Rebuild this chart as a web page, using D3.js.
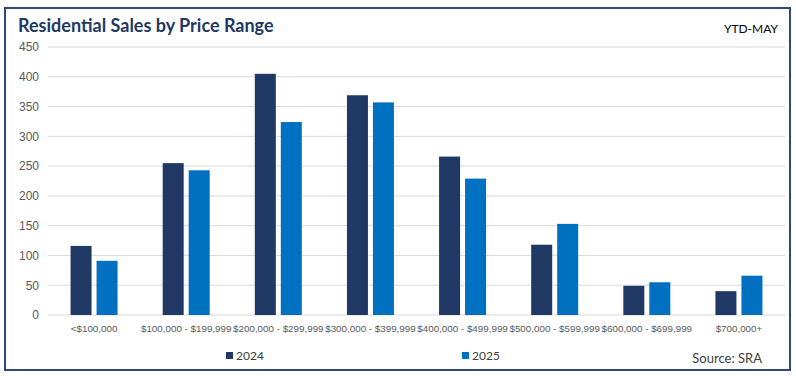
<!DOCTYPE html>
<html lang="en">
<head>
  <meta charset="UTF-8" />
  <title>Residential Sales by Price Range</title>
  <script src="https://d3js.org/d3.v7.min.js"></script>
  <style>
    body, html { margin: 0; padding: 0; background: #fff; }
    svg { display: block; font-family: Lato, "Open Sans", sans-serif; }
  </style>
</head>
<body>
  <svg id="chart" width="796" height="376"></svg>
  <script>
    // Chart data
    const categories = ["<$100,000", "$100,000 - $199,999", "$200,000 - $299,999", "$300,000 - $399,999",
                        "$400,000 - $499,999", "$500,000 - $599,999", "$600,000 - $699,999", "$700,000+"];
    const seriesNames = ["2024", "2025"];
    const sales2024 = [116, 255, 405, 369, 266, 118, 49, 40];
    const sales2025 = [91, 243, 324, 357, 229, 153, 55, 66];
    const yTicks = [0, 50, 100, 150, 200, 250, 300, 350, 400, 450];

    const colors = ["#203864", "#0070c0"];
    const svg = d3.select("#chart");
    const margin = { left: 48, right: 11, top: 47, bottom: 61 };
    const W = 796, H = 376;

    // Outer frame
    svg.append("rect")
      .attr("x", 5).attr("y", 8).attr("width", 785).attr("height", 362)
      .attr("fill", "#fff").attr("stroke", "#2f4a7a").attr("stroke-width", 2);

    const x = d3.scaleBand().domain(categories).range([margin.left, W - margin.right]);
    const y = d3.scaleLinear().domain([0, 450]).range([H - margin.bottom, margin.top]);

    // Gridlines
    svg.append("g").selectAll("line").data(yTicks).join("line")
      .attr("x1", margin.left).attr("x2", W - margin.right)
      .attr("y1", d => y(d)).attr("y2", d => y(d))
      .attr("stroke", "#d9d9d9").attr("stroke-width", 1);

    // Y axis labels
    const yAxis = svg.append("g").attr("transform", `translate(${margin.left - 9},0)`)
      .call(d3.axisLeft(y).tickValues(yTicks).tickSize(0).tickPadding(0));
    yAxis.select(".domain").remove();
    yAxis.selectAll("text").attr("fill", "#595959").attr("font-size", 12);

    // Bars
    const barW = 21, gap = 5;
    const data = categories.map((c, i) => ({ c, vals: [sales2024[i], sales2025[i]] }));
    const groups = svg.append("g").selectAll("g").data(data).join("g")
      .attr("transform", d => `translate(${x(d.c) + x.bandwidth() / 2},0)`);
    groups.selectAll("rect").data(d => d.vals).join("rect")
      .attr("x", (d, i) => i === 0 ? -(barW + gap / 2) : gap / 2)
      .attr("width", barW)
      .attr("y", d => y(d))
      .attr("height", d => y(0) - y(d))
      .attr("fill", (d, i) => colors[i]);

    // X axis labels
    const xAxis = svg.append("g").attr("transform", `translate(0,${y(0)})`)
      .call(d3.axisBottom(x).tickSize(0).tickPadding(10));
    xAxis.select(".domain").remove();
    xAxis.selectAll("text").attr("fill", "#595959").attr("font-size", 9.8);

    // Title and labels
    svg.append("text").attr("x", 18).attr("y", 32)
      .attr("font-size", 18).attr("font-weight", "bold").attr("fill", "#1f3864")
      .text("Residential Sales by Price Range");
    svg.append("text").attr("x", 778).attr("y", 33).attr("text-anchor", "end")
      .attr("font-size", 12).attr("fill", "#000").text("YTD-MAY");
    svg.append("text").attr("x", 762).attr("y", 363).attr("text-anchor", "end")
      .attr("font-size", 13).attr("fill", "#404040").text("Source: SRA");

    // Legend
    const legendX = [226, 462];
    const legend = svg.append("g").selectAll("g").data(seriesNames).join("g")
      .attr("transform", (d, i) => `translate(${legendX[i]},352)`);
    legend.append("rect").attr("width", 7).attr("height", 7).attr("fill", (d, i) => colors[i]);
    legend.append("text").attr("x", 10).attr("y", 8)
      .attr("font-size", 12).attr("fill", "#404040").text(d => d);
  </script>
</body>
</html>
